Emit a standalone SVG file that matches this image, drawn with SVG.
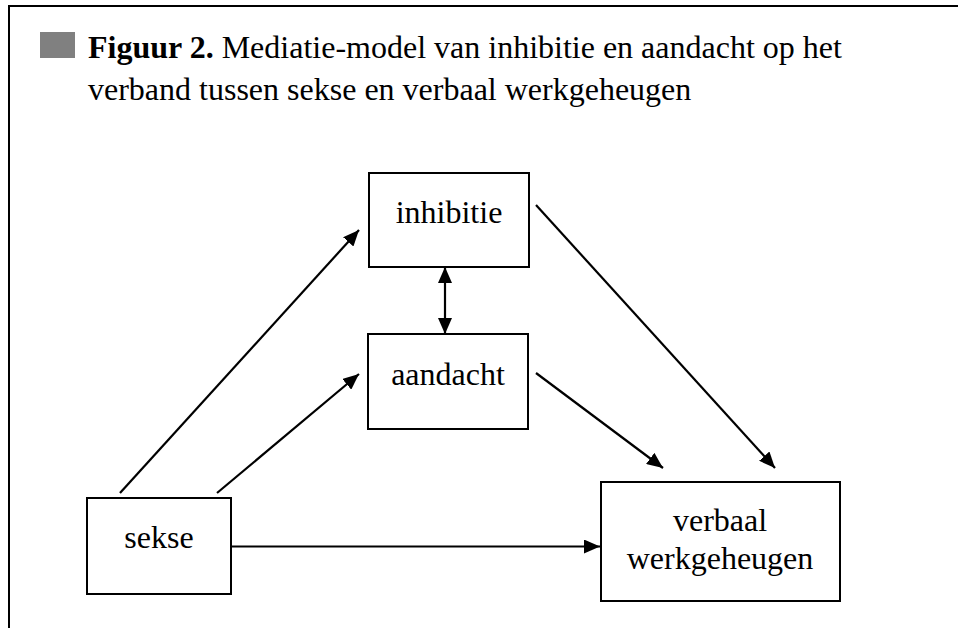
<svg xmlns="http://www.w3.org/2000/svg" width="958" height="628" viewBox="0 0 958 628" font-family="'Liberation Serif','Times New Roman',serif">
<defs>
<style>
text{font-family:"Liberation Serif","Times New Roman",serif;font-size:32px;fill:#000}
.box{fill:#fff;stroke:#000;stroke-width:2}
.lbl{text-anchor:middle}
.con{stroke:#000;stroke-width:2.2;fill:none}
</style>
<marker id="ah" viewBox="0 0 16 14" refX="16" refY="7" markerWidth="16" markerHeight="14" markerUnits="userSpaceOnUse" orient="auto-start-reverse">
<path d="M0,0 L16,7 L0,14 Z" fill="#000"/>
</marker>
</defs>
<rect width="958" height="628" fill="#fff"/>
<path d="M9,628 V6 H958" fill="none" stroke="#000" stroke-width="2"/>
<g id="title">
<rect x="40" y="32" width="35" height="26" fill="#808080"/>
<text x="88" y="58"><tspan font-weight="bold">Figuur 2.</tspan> Mediatie-model van inhibitie en aandacht op het</text>
<text x="88" y="100">verband tussen sekse en verbaal werkgeheugen</text>
</g>
<g id="connectors">
<line class="con" x1="120" y1="493" x2="359" y2="230" marker-end="url(#ah)"/>
<line class="con" x1="217" y1="493" x2="359" y2="374" marker-end="url(#ah)"/>
<line class="con" x1="536" y1="205" x2="775" y2="468" marker-end="url(#ah)"/>
<line class="con" x1="536" y1="373" x2="663" y2="468" marker-end="url(#ah)"/>
<line class="con" x1="231" y1="546.5" x2="600" y2="546.5" marker-end="url(#ah)"/>
<line class="con" x1="445" y1="267" x2="445" y2="334" marker-start="url(#ah)" marker-end="url(#ah)"/>
</g>
<g id="inhibitie">
<rect class="box" x="369" y="173" width="160" height="94"/>
<text class="lbl" x="449" y="223">inhibitie</text>
</g>
<g id="aandacht">
<rect class="box" x="368" y="334" width="160" height="95"/>
<text class="lbl" x="448" y="385">aandacht</text>
</g>
<g id="sekse">
<rect class="box" x="87" y="498" width="144" height="96"/>
<text class="lbl" x="159" y="548">sekse</text>
</g>
<g id="verbaal">
<rect class="box" x="601" y="482" width="239" height="119"/>
<text class="lbl" x="720" y="531">verbaal</text>
<text class="lbl" x="720" y="569">werkgeheugen</text>
</g>
</svg>
